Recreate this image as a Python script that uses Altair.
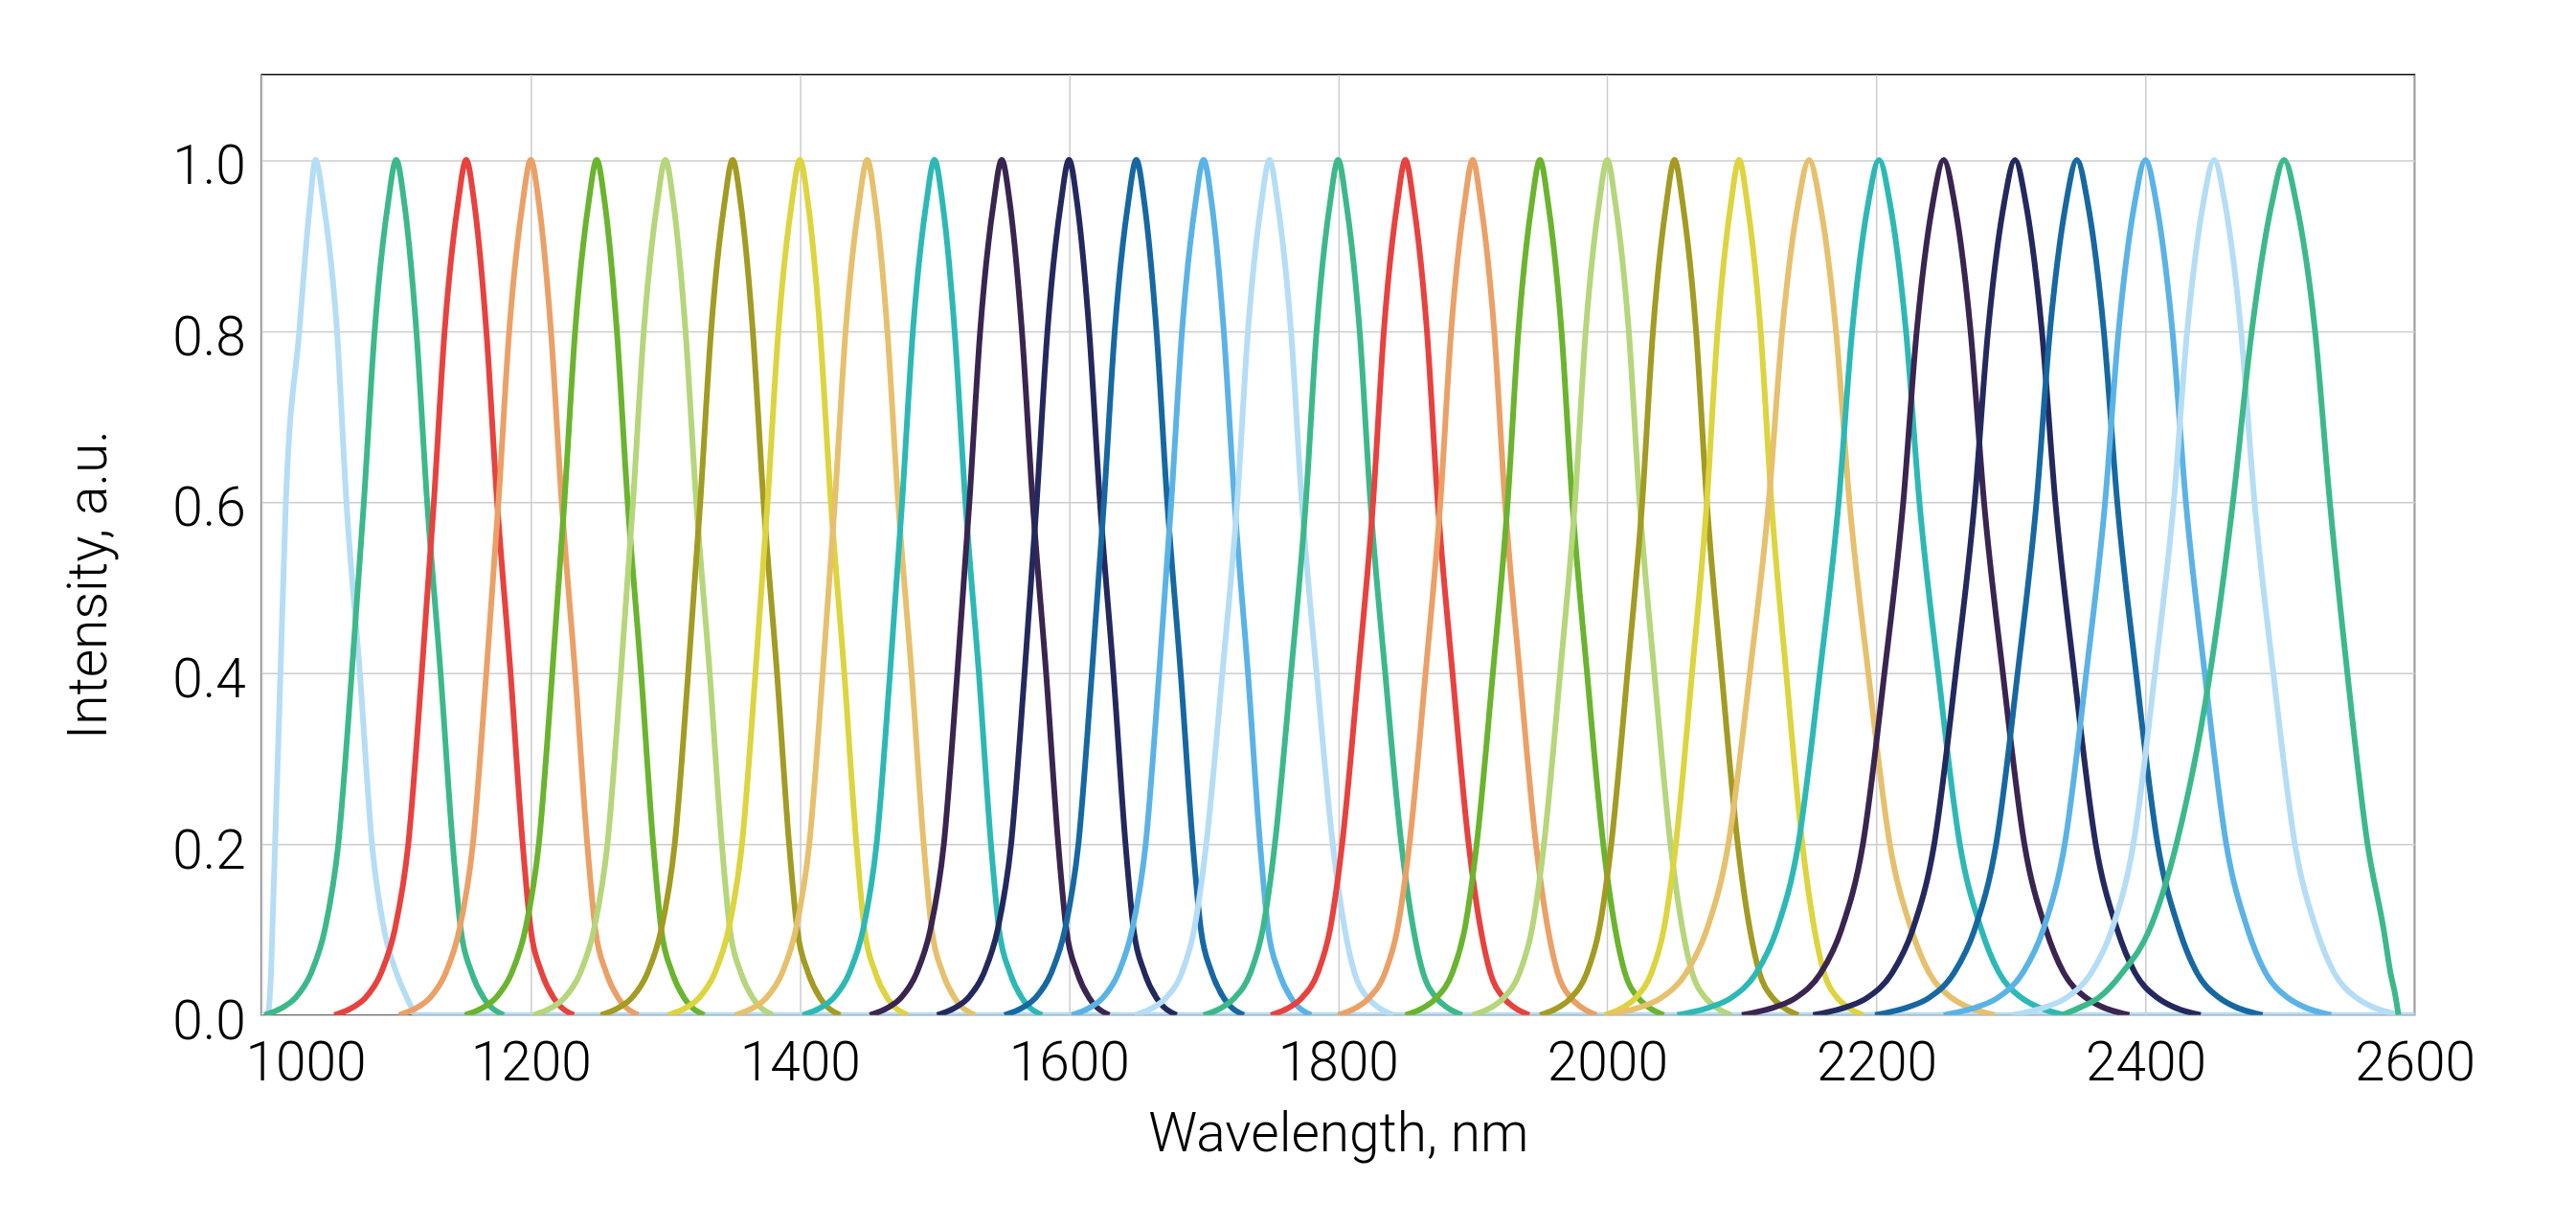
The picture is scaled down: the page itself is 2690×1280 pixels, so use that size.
"""Normalised emission spectra of a tunable source, 1000-2600 nm."""
import altair as alt
import pandas as pd

LEVELS = [1.0, 0.95, 0.8, 0.6, 0.4, 0.2, 0.1, 0.05, 0.02, 0.01, 0.0]

# peak wavelengths, nm
PEAKS = [1040, 1100, 1152, 1200, 1249, 1300, 1350, 1400, 1450, 1500,
         1550, 1600, 1650, 1700, 1749, 1800, 1850, 1900, 1950, 2000,
         2050, 2098, 2150, 2202, 2250, 2303, 2349, 2400, 2451, 2503]

# distance (nm) from the peak to each level, left and right side
FIRST_L = [0, 4, 12, 22, 26, 30, 32, 33, 34, 34.5, 35]
FIRST_R = [0, 6, 16, 23, 33, 42, 51, 60, 68, 71, 75]
EARLY_L = [0, 6, 16, 24, 33, 43, 53, 63, 75, 83, 98]
EARLY_R = [0, 6, 15, 23, 33, 42, 48, 56, 65, 70, 80]
MID_L = [0, 6, 16, 24, 35, 47, 56, 65, 77, 85, 100]
MID_R = [0, 6, 16, 24, 35, 47, 56, 63, 73, 80, 92]
LATE_L = [0, 8, 20, 30, 44, 60, 76, 91, 110, 124, 150]
LATE_R = [0, 8, 20, 30, 44, 60, 76, 89, 106, 117, 138]
LAST_L = [0, 9, 24, 38, 55, 80, 100, 120, 138, 150, 165]
LAST_R = [0, 9, 23, 34, 47, 62, 74, 79, 83, 84, 85]

SHAPES = {"first": (FIRST_L, FIRST_R), "early": (EARLY_L, EARLY_R),
          "mid": (MID_L, MID_R), "late": (LATE_L, LATE_R),
          "last": (LAST_L, LAST_R)}
SHAPE_OF = (["first"] + ["early"] * 13 + ["mid"] * 8 + ["late"] * 7 + ["last"])

# the first spectrum's flat zero runs on to the end of the scan
BASELINE_END = 2600

PALETTE = ["#b5ddf5", "#3cb98a", "#e8413e", "#eba066", "#6ab42e", "#b5d67a",
           "#a39b22", "#ddd43e", "#e6c06c", "#2cb9b6", "#3a2450", "#23295e",
           "#1668a2", "#5ab3e6"]
COLORS = [PALETTE[i % len(PALETTE)] for i in range(len(PEAKS))]
SERIES = [f"c{i:02d}" for i in range(len(PEAKS))]

X_TICKS = [1000, 1200, 1400, 1600, 1800, 2000, 2200, 2400, 2600]
Y_TICKS = [0.0, 0.2, 0.4, 0.6, 0.8, 1.0]

rows = []
for name, peak, shape in zip(SERIES, PEAKS, SHAPE_OF):
    left, right = SHAPES[shape]
    for lvl, d in zip(LEVELS, left):
        rows.append({"series": name, "wl": peak - d, "val": lvl})
    for lvl, d in zip(LEVELS[1:], right[1:]):
        rows.append({"series": name, "wl": peak + d, "val": lvl})
    if name == SERIES[0]:
        rows.append({"series": name, "wl": BASELINE_END, "val": 0.0})
df = pd.DataFrame(rows)

FONT = "Roboto"

chart = alt.Chart(df).mark_line(
    strokeWidth=6, interpolate="monotone", clip=True
).encode(
    x=alt.X("wl:Q", scale=alt.Scale(domain=[1000, 2600], nice=False),
            axis=alt.Axis(
                title="Wavelength, nm", values=X_TICKS, format="d",
                grid=True, ticks=False, tickSize=0, domain=False,
                labelFlush=False, labelPadding=68, labelBaseline="alphabetic",
                labelOffset={"condition": {"test": "datum.value == 1000", "value": 46}, "value": 0},
                titleBaseline="alphabetic", titleY=142)),
    y=alt.Y("val:Q", scale=alt.Scale(domain=[0, 1.1], nice=False),
            axis=alt.Axis(
                title="Intensity, a.u.", values=Y_TICKS, format=".1f",
                grid=True, ticks=False, tickSize=0, domain=False,
                labelPadding=17, labelBaseline="middle", labelOffset=8,
                titleBaseline="alphabetic", titleX=-163, titleY=534)),
    color=alt.Color("series:N", scale=alt.Scale(domain=SERIES, range=COLORS),
                    legend=None),
).properties(
    width=2255, height=985,
    autosize=alt.AutoSizeParams(type="none"),
    padding={"left": 266, "top": 68, "right": 161, "bottom": 211},
).configure_view(
    stroke="#111111", strokeWidth=1.5
).configure_axis(
    gridColor="#cccccc", gridWidth=1.5,
    labelFont=FONT, labelFontSize=57, labelFontWeight=300, labelColor="#000000",
    titleFont=FONT, titleFontSize=57, titleFontWeight=300, titleColor="#000000",
)

chart.save("out.html", embed_options={"renderer": "svg", "actions": False})
